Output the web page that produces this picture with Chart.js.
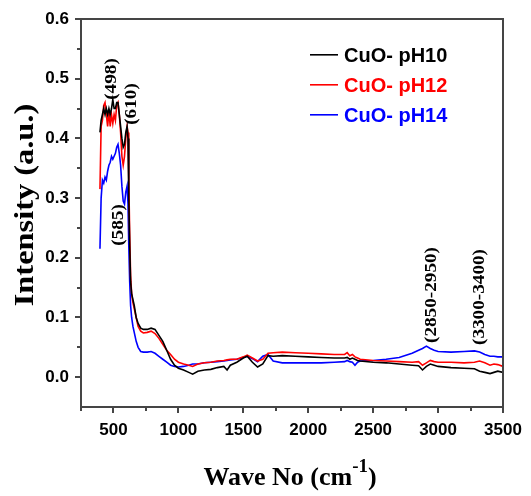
<!DOCTYPE html>
<html><head><meta charset="utf-8">
<script src="https://cdn.jsdelivr.net/npm/chart.js@4/dist/chart.umd.min.js"></script>
</head><body style="margin:0">
<canvas id="c" width="531" height="496"></canvas>
<script>
const waveNumbers = [396,405,415,425,435,445,455,465,475,485,495,505,515,525,535,545,555,565,575,585,595,605,612,618,625,632,640,650,660,675,690,710,730,760,790,820,850,880,910,940,970,1000,1040,1080,1110,1150,1200,1250,1300,1350,1375,1400,1450,1500,1530,1570,1610,1650,1690,1730,1800,1900,2000,2100,2200,2280,2300,2320,2340,2360,2380,2400,2500,2600,2700,2800,2850,2880,2910,2940,2970,3000,3100,3200,3280,3320,3360,3400,3430,3460,3500];
const pH10 = [0.41,0.43,0.44,0.45,0.44,0.45,0.44,0.45,0.44,0.45,0.465,0.45,0.45,0.46,0.46,0.44,0.42,0.40,0.385,0.39,0.41,0.42,0.40,0.30,0.22,0.16,0.14,0.13,0.12,0.10,0.09,0.082,0.08,0.08,0.082,0.08,0.07,0.06,0.045,0.03,0.02,0.015,0.012,0.008,0.005,0.01,0.012,0.013,0.016,0.018,0.012,0.02,0.025,0.032,0.035,0.025,0.017,0.022,0.036,0.035,0.036,0.035,0.034,0.033,0.032,0.032,0.033,0.03,0.032,0.03,0.028,0.027,0.025,0.024,0.022,0.02,0.019,0.012,0.018,0.022,0.02,0.018,0.016,0.015,0.014,0.01,0.008,0.006,0.008,0.01,0.008];
const pH12 = [0.315,0.42,0.43,0.455,0.46,0.44,0.42,0.445,0.42,0.44,0.425,0.44,0.43,0.455,0.46,0.44,0.41,0.37,0.355,0.37,0.40,0.42,0.41,0.33,0.24,0.17,0.14,0.125,0.115,0.10,0.085,0.077,0.074,0.075,0.077,0.073,0.065,0.055,0.045,0.038,0.03,0.025,0.022,0.02,0.018,0.022,0.024,0.025,0.027,0.028,0.029,0.03,0.03,0.034,0.037,0.032,0.027,0.03,0.04,0.041,0.042,0.041,0.04,0.039,0.038,0.038,0.041,0.036,0.038,0.034,0.032,0.03,0.028,0.027,0.026,0.025,0.026,0.02,0.024,0.028,0.026,0.025,0.025,0.024,0.025,0.027,0.024,0.02,0.022,0.021,0.018];
const pH14 = [0.215,0.30,0.33,0.325,0.335,0.33,0.345,0.355,0.36,0.37,0.365,0.37,0.375,0.385,0.39,0.375,0.355,0.32,0.295,0.29,0.31,0.32,0.29,0.22,0.16,0.12,0.10,0.085,0.075,0.06,0.05,0.043,0.042,0.042,0.043,0.04,0.035,0.03,0.025,0.02,0.018,0.017,0.018,0.02,0.022,0.022,0.024,0.025,0.026,0.027,0.028,0.029,0.03,0.033,0.035,0.031,0.026,0.035,0.038,0.027,0.024,0.024,0.024,0.024,0.025,0.026,0.028,0.026,0.025,0.02,0.025,0.027,0.028,0.03,0.033,0.04,0.045,0.048,0.052,0.048,0.045,0.043,0.042,0.043,0.044,0.042,0.038,0.035,0.035,0.034,0.034];
const seriesNames = ['CuO- pH10','CuO- pH12','CuO- pH14'];
const seriesColors = ['#000000','#ff0000','#0000ff'];
const peakLabels = ['(498)','(610)','(585)','(2850-2950)','(3300-3400)'];
const xTitle = 'Wave No (cm';
const xTitleSup = '-1';
const yTitle = 'Intensity (a.u.)';
const allSeries = [pH10,pH12,pH14];

function rotText(ctx,text,cx,cy,font,stretch){
  ctx.save();ctx.font=font;ctx.fillStyle='#000';ctx.translate(cx,cy);ctx.rotate(-Math.PI/2);ctx.scale(stretch,1);
  ctx.textAlign='center';ctx.textBaseline='middle';ctx.fillText(text,0,0);ctx.restore();
}

const dbg={id:'dbg',afterDraw(chart){
  const ctx=chart.ctx;const a=chart.chartArea;
  const sx=chart.scales.x, sy=chart.scales.y;
  const L=Math.round(a.left),T=Math.round(a.top),R=Math.round(a.right),B=Math.round(a.bottom);
  ctx.save();
  ctx.fillStyle='#454545';
  ctx.fillRect(L-1,T-1,2,B-T+2);ctx.fillRect(L-1,T-1,R-L+2,2);ctx.fillRect(R-1,T-1,2,B-T+2);ctx.fillRect(L-1,B-1,R-L+2,2);
  for(let v=250;v<=3500;v+=250){const p=Math.round(sx.getPixelForValue(v));const len=(v%500===0)?6:4;ctx.fillRect(p-1,B,2,len);}
  for(let k=0;k<=12;k++){const p=Math.round(sy.getPixelForValue(k*0.05));const len=(k%2===0)?6:4;ctx.fillRect(L-len,p-1,len,2);}
  ctx.restore();
  const f='bold 16px "Liberation Serif", serif';
  const anX=[112,132,119,432,480], anY=[79,104,225,295,297];
  peakLabels.forEach((t,i)=>rotText(ctx,t,anX[i],anY[i],f,1.2));
  rotText(ctx,yTitle,26,205,'bold 27px "Liberation Serif", serif',1.2);
  ctx.save();
  ctx.fillStyle='#000';ctx.textBaseline='alphabetic';ctx.textAlign='left';
  const fMain='bold 26px "Liberation Serif", serif', fSup='bold 19px "Liberation Serif", serif';
  ctx.font=fMain;const w1=ctx.measureText(xTitle).width;const w3=ctx.measureText(')').width;
  ctx.font=fSup;const w2=ctx.measureText(xTitleSup).width;
  const x0=290-(w1+w2+w3)/2, base=485;
  ctx.font=fMain;ctx.fillText(xTitle,x0,base);
  ctx.font=fSup;ctx.fillText(xTitleSup,x0+w1,base-13);
  ctx.font=fMain;ctx.fillText(')',x0+w1+w2,base);
  const rows=[55,85,115];
  seriesNames.forEach((n,i)=>{
    ctx.fillStyle=seriesColors[i];
    ctx.fillRect(310,rows[i]-1,28,1.6);
    ctx.font='bold 20px "Liberation Sans", Arial, sans-serif';
    ctx.textBaseline='middle';
    ctx.fillText(n,344,rows[i]+1);
  });
  ctx.restore();
}};

new Chart(document.getElementById('c'),{type:'scatter',
  data:{datasets:allSeries.map((s,i)=>({label:seriesNames[i],data:waveNumbers.map((x,j)=>({x:x,y:s[j]})),showLine:true,borderColor:seriesColors[i],borderWidth:1.6,pointRadius:0}))},
  options:{responsive:false,animation:false,layout:{padding:{top:19,right:28}},plugins:{legend:{display:false},tooltip:{enabled:false}},
  scales:{
    x:{type:'linear',min:250,max:3500,afterFit(s){s.height=89;},grid:{display:false},border:{display:true,color:'#454545',width:2},
       ticks:{stepSize:250,autoSkip:false,maxRotation:0,padding:5,color:'#000',font:{family:'"Liberation Sans", Arial, sans-serif',size:17,weight:'bold'},callback:(v)=>(v%500===0)?String(v):''}},
    y:{type:'linear',min:-0.05,max:0.6,afterFit(s){s.width=81;},grid:{display:false},border:{display:true,color:'#454545',width:2},
       ticks:{stepSize:0.05,autoSkip:false,padding:4,color:'#000',font:{family:'"Liberation Sans", Arial, sans-serif',size:17,weight:'bold'},callback:(v)=>{const k=Math.round(v/0.05);if(k<0||k%2!==0)return '';return (k*0.05).toFixed(1);}}}
  }},
  plugins:[dbg]});
</script></body></html>
